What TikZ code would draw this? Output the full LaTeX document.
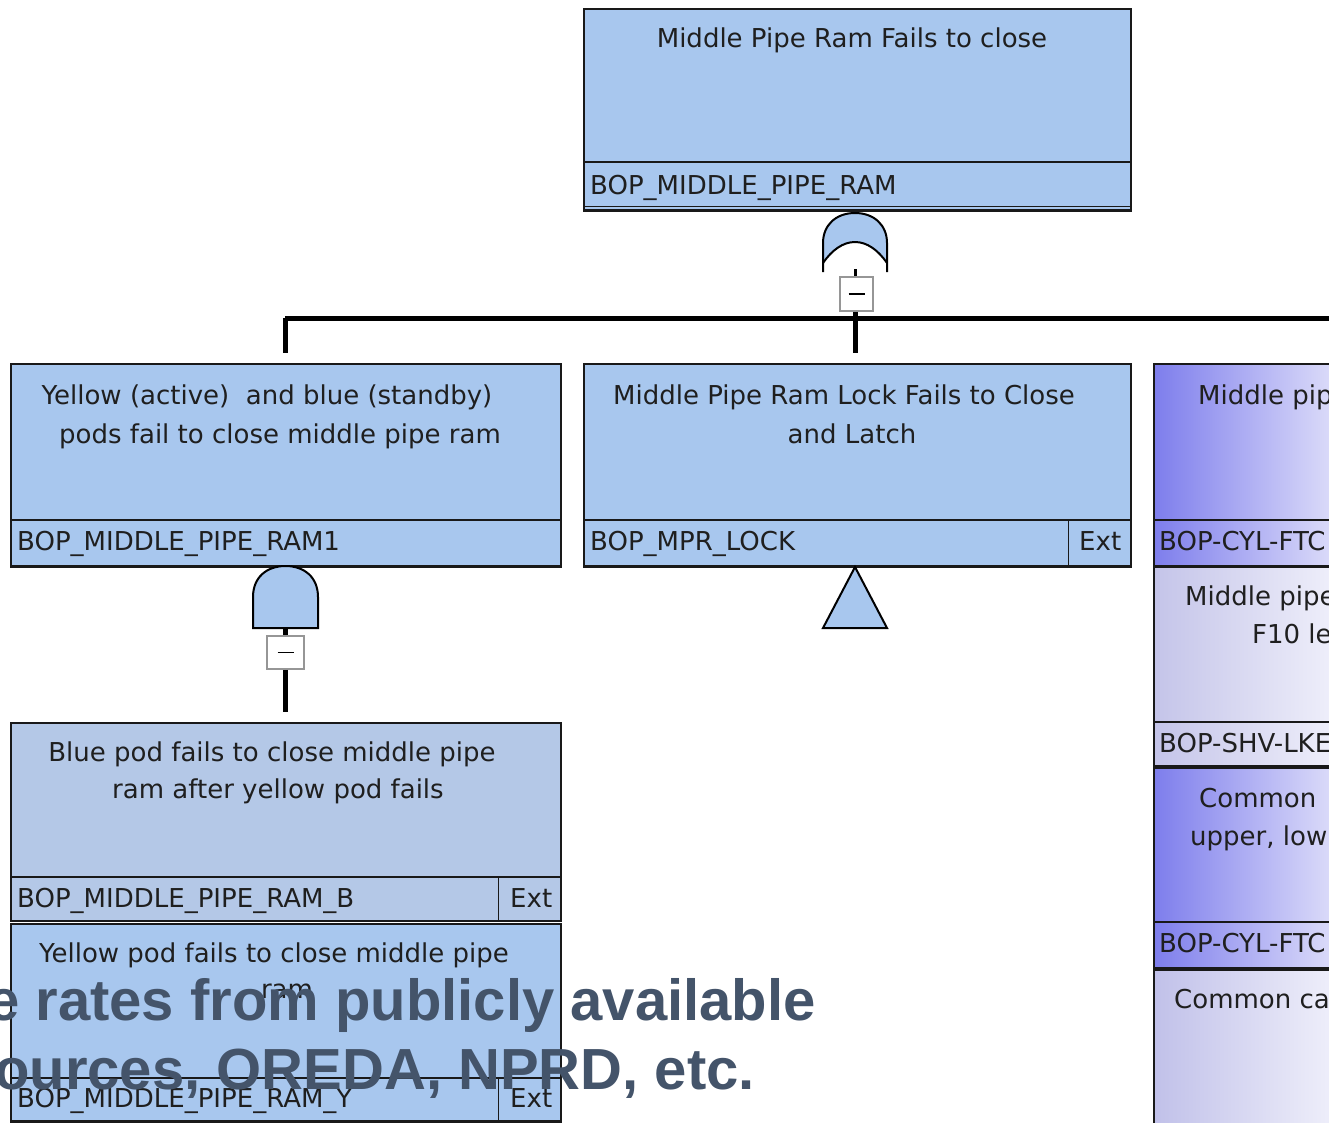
\documentclass[tikz,border=0pt]{standalone}
\usepackage{fontspec}
\setmainfont{DejaVu Sans}
\newfontfamily\ovlfont{Liberation Sans}
\definecolor{boxblue}{RGB}{168,199,238}
\definecolor{boxblueb}{RGB}{180,200,231}
\definecolor{edge}{RGB}{25,25,25}
\definecolor{ovlcol}{RGB}{68,84,106}
\definecolor{purL}{RGB}{125,125,236}
\definecolor{purR}{RGB}{218,218,249}
\definecolor{lavL}{RGB}{196,196,233}
\definecolor{lavR}{RGB}{238,238,250}
\definecolor{sqgray}{RGB}{150,150,150}
\begin{document}
\begin{tikzpicture}[x=1pt,y=-1pt,
  evbox/.style={rectangle, draw=edge, line width=1.5pt, inner sep=0pt, anchor=north west},
  sepline/.style={draw=edge, line width=1.5pt},
  botline/.style={draw=edge, line width=3.5pt},
  txt/.style={font=\fontsize{26}{32}\selectfont, inner sep=0pt, text=black!88},
  wire/.style={draw=black, line width=5pt},
  gateline/.style={draw=black, line width=2pt},
  sqbox/.style={rectangle, draw=sqgray, line width=1.5pt, fill=white, inner sep=0pt,
     path picture={\draw[line width=1.5pt,black] ([xshift=-8pt]path picture bounding box.center) -- ([xshift=8pt]path picture bounding box.center);}},
  ovl/.style={font=\ovlfont\bfseries\fontsize{58}{66}\selectfont, text=ovlcol, inner sep=0pt}
]
\useasboundingbox (0,0) rectangle (1329,1122);
\clip (0,0) rectangle (1329,1122);

% ---------- right column shading ----------
\shade[left color=purL, right color=purR] (1153,363) rectangle (1330,565);
\shade[left color=lavL, right color=lavR] (1153,565) rectangle (1330,767);
\shade[left color=purL, right color=purR] (1153,767) rectangle (1330,969);
\shade[left color=lavL!95!purL, right color=lavR] (1153,969) rectangle (1330,1130);

% ---------- boxes ----------
\node[evbox, fill=boxblue, minimum width=547pt, minimum height=201pt] (top) at (583,8) {};
\node[evbox, fill=boxblue, minimum width=550pt, minimum height=202pt] (L1) at (10,363) {};
\node[evbox, fill=boxblue, minimum width=547pt, minimum height=202pt] (M) at (583,363) {};
\node[evbox, fill=boxblueb, minimum width=550pt, minimum height=198pt] (B) at (10,722) {};
\node[evbox, fill=boxblue, minimum width=550pt, minimum height=197pt] (Y) at (10,923) {};
\node[evbox, minimum width=547pt, minimum height=202pt] (R1) at (1153,363) {};
\node[evbox, minimum width=547pt, minimum height=200pt] (R2) at (1153,565) {};
\node[evbox, minimum width=547pt, minimum height=200pt] (R3) at (1153,767) {};
\node[evbox, minimum width=547pt, minimum height=200pt] (R4) at (1153,969) {};

% separators
\draw[sepline] ([yshift=-154pt]top.north west) -- ([yshift=-154pt]top.north east);
\draw[sepline] ([yshift=-157pt]L1.north west) -- ([yshift=-157pt]L1.north east);
\draw[sepline] ([yshift=-157pt]M.north west) -- ([yshift=-157pt]M.north east);
\draw[sepline] ([yshift=-157pt]R1.north west) -- ([yshift=-157pt]R1.north east);
\draw[sepline] ([yshift=-155pt]B.north west) -- ([yshift=-155pt]B.north east);
\draw[sepline] ([yshift=-155pt]Y.north west) -- ([yshift=-155pt]Y.north east);
\draw[sepline] ([yshift=-157pt]R2.north west) -- ([yshift=-157pt]R2.north east);
\draw[sepline] ([yshift=-155pt]R3.north west) -- ([yshift=-155pt]R3.north east);
% Ext dividers
\draw[sepline] ([xshift=-63pt]M.south east) -- ([xshift=-63pt,yshift=-157pt]M.north east);
\draw[sepline] ([xshift=-63pt]B.south east) -- ([xshift=-63pt,yshift=-155pt]B.north east);
\draw[sepline] ([xshift=-63pt]Y.south east) -- ([xshift=-63pt,yshift=-155pt]Y.north east);
% thick bottoms
\draw[botline] (top.south west) -- (top.south east);
\draw[sepline, line width=1pt] ([yshift=4pt]top.south west) -- ([yshift=4pt]top.south east);
\draw[botline] (L1.south west) -- (L1.south east);
\draw[botline] (M.south west) -- (M.south east);
\draw[botline] (R1.south west) -- (R1.south east);
\draw[botline] (R2.south west) -- (R2.south east);
\draw[botline] (R3.south west) -- (R3.south east);
\draw[botline] (Y.south west) -- (Y.south east);

% ---------- texts ----------
\node[txt, anchor=base] (t1) at (852,47) {Middle Pipe Ram Fails to close};
\node[txt, anchor=base west] (t1l) at (590,194) {BOP\_MIDDLE\_PIPE\_RAM};

\node[txt, anchor=base] (l1a) at (267,404) {Yellow (active)\ \ and blue (standby)};
\node[txt, anchor=base] (l1b) at (280,443) {pods fail to close middle pipe ram};
\node[txt, anchor=base west] (l1l) at (17,550) {BOP\_MIDDLE\_PIPE\_RAM1};

\node[txt, anchor=base] (ma) at (844,404) {Middle Pipe Ram Lock Fails to Close};
\node[txt, anchor=base] (mb) at (852,443) {and Latch};
\node[txt, anchor=base west] (ml) at (590,550) {BOP\_MPR\_LOCK};
\node[txt, anchor=base west] (me) at (1079,550) {Ext};

\node[txt, anchor=base] (ba) at (272,761) {Blue pod fails to close middle pipe};
\node[txt, anchor=base] (bb) at (278,798) {ram after yellow pod fails};
\node[txt, anchor=base west] (bl) at (17,907) {BOP\_MIDDLE\_PIPE\_RAM\_B};
\node[txt, anchor=base west] (be) at (510,907) {Ext};

\node[txt, anchor=base] (ya) at (274,962) {Yellow pod fails to close middle pipe};
\node[txt, anchor=base] (yb) at (287,998) {ram};
\node[txt, anchor=base west] (yl) at (17,1107) {BOP\_MIDDLE\_PIPE\_RAM\_Y};
\node[txt, anchor=base west] (ye) at (510,1107) {Ext};

\node[txt, anchor=base west] (r1a) at (1198,404) {Middle pip};
\node[txt, anchor=base west] (r1l) at (1159,550) {BOP-CYL-FTC};
\node[txt, anchor=base west] (r2a) at (1185,605) {Middle pipe};
\node[txt, anchor=base west] (r2b) at (1252,643) {F10 le};
\node[txt, anchor=base west] (r2l) at (1159,752) {BOP-SHV-LKE};
\node[txt, anchor=base west] (r3a) at (1199,807) {Common};
\node[txt, anchor=base west] (r3b) at (1190,845) {upper, low};
\node[txt, anchor=base west] (r3l) at (1159,952) {BOP-CYL-FTC};
\node[txt, anchor=base west] (r4a) at (1174,1008) {Common ca};

% ---------- OR gate ----------
\fill[boxblue] (823,263) -- (823,243) .. controls (823,225) and (836,213) .. (855,213)
   .. controls (874,213) and (887,225) .. (887,243) -- (887,263)
   .. controls (878,250) and (867,242) .. (855,242) .. controls (843,242) and (832,250) .. (823,263) -- cycle;
\draw[gateline] (823,272) -- (823,243) .. controls (823,225) and (836,213) .. (855,213)
   .. controls (874,213) and (887,225) .. (887,243) -- (887,272);
\draw[gateline] (887,263) .. controls (878,250) and (867,242) .. (855,242) .. controls (843,242) and (832,250) .. (823,263);
\coordinate (orout) at (855,269);
\node[sqbox, minimum width=33pt, minimum height=34pt] (orsq) at (856.5,294) {};
\draw[black, line width=3pt] (orout) -- (orout |- orsq.north);

% ---------- bus ----------
\coordinate (busL) at (285,318);
\coordinate (busR) at (1340,318);
\coordinate (l1in) at (285,353);
\coordinate (min) at (855.5,353);
\draw[wire] (busL) -- (busR);
\draw[wire] (busL) -- (l1in);
\draw[wire] (orsq.south -| min) -- (min);

% ---------- AND gate ----------
\draw[gateline, fill=boxblue] (253,628) -- (253,597) .. controls (253,577) and (267,566) .. (285.5,566)
   .. controls (304,566) and (318,577) .. (318,597) -- (318,628) -- cycle;
\coordinate (andout) at (285.5,628);
\node[sqbox, minimum width=37pt, minimum height=33pt] (andsq) at (285.5,652.5) {};
\coordinate (bin) at (285.5,712);
\draw[wire] (andout) -- (andsq.north);
\draw[wire] (andsq.south) -- (bin);

% ---------- transfer triangle ----------
\draw[gateline, fill=boxblue] (855,567) -- (887,628) -- (823,628) -- cycle;

% ---------- overlay text ----------
\node[ovl, anchor=base west] (ov1) at (-13,1020) {e rates from publicly available};
\node[ovl, anchor=base west] (ov2) at (-6,1089) {ources, OREDA, NPRD, etc.};
\end{tikzpicture}
\end{document}
